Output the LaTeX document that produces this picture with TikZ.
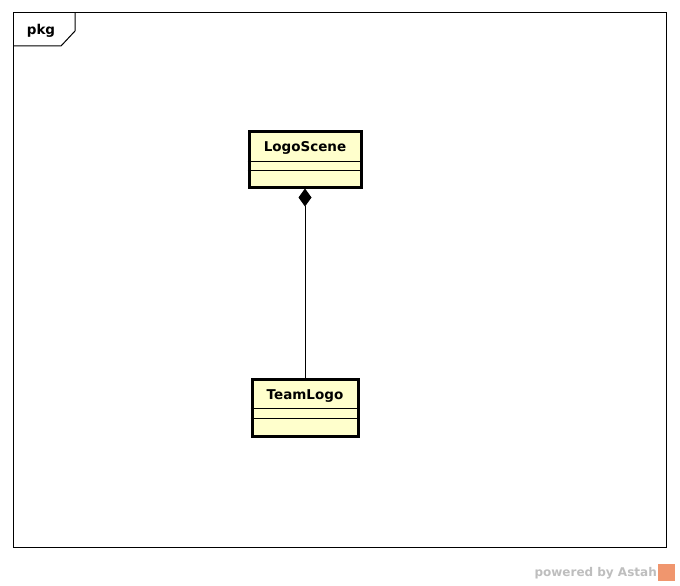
\documentclass[tikz,border=0pt]{standalone}
\usepackage{fontspec}
\setmainfont{DejaVu Sans}
\usetikzlibrary{arrows.meta}
\definecolor{classfill}{RGB}{255,255,204}
\definecolor{wmgray}{RGB}{190,190,190}
\definecolor{astahorange}{RGB}{240,150,110}
\tikzset{
  classbox/.style={draw=black, line width=3pt, fill=classfill, inner sep=0pt},
  classname/.style={font=\bfseries\fontsize{13.5}{15}\selectfont, inner sep=0pt},
  compline/.style={line width=1pt},
  frameline/.style={line width=1pt},
  composition/.style={line width=1pt, {Diamond[length=18pt,width=13pt]}-}
}
\begin{document}
\begin{tikzpicture}[x=1pt,y=-1pt]
  \useasboundingbox[fill=white] (0,0) rectangle (680,586);
  % package frame with its name tab
  \draw[frameline] (13,13) rectangle (666,547);
  \draw[frameline] (75,13) -- (75,31) -- (61,46) -- (13,46);
  \node[font=\bfseries\fontsize{13.5}{15}\selectfont, inner sep=0pt] (pkg) at (41,31) {pkg};

  % class LogoScene
  \node[classbox, minimum width=112pt, minimum height=56pt] (scene) at (305,159) {};
  \node[classname] (scenename) at (305,148) {LogoScene};
  \draw[compline] ([yshift=-31.5pt]scene.north west) -- ([yshift=-31.5pt]scene.north east);
  \draw[compline] ([yshift=-41pt]scene.north west) -- ([yshift=-41pt]scene.north east);

  % class TeamLogo
  \node[classbox, minimum width=106pt, minimum height=57pt] (team) at (305,407.5) {};
  \node[classname] (teamname) at (305,396) {TeamLogo};
  \draw[compline] ([yshift=-31pt]team.north west) -- ([yshift=-31pt]team.north east);
  \draw[compline] ([yshift=-41pt]team.north west) -- ([yshift=-41pt]team.north east);

  % composition: LogoScene owns TeamLogo
  \draw[composition] (scene.south) -- (team.north);

  % watermark
  \node[font=\bfseries\fontsize{12}{14}\selectfont, text=wmgray, inner sep=0pt, anchor=east] (wm) at (657,573) {powered by Astah};
  \fill[astahorange] (658,564) rectangle (675,581);
\end{tikzpicture}
\end{document}
